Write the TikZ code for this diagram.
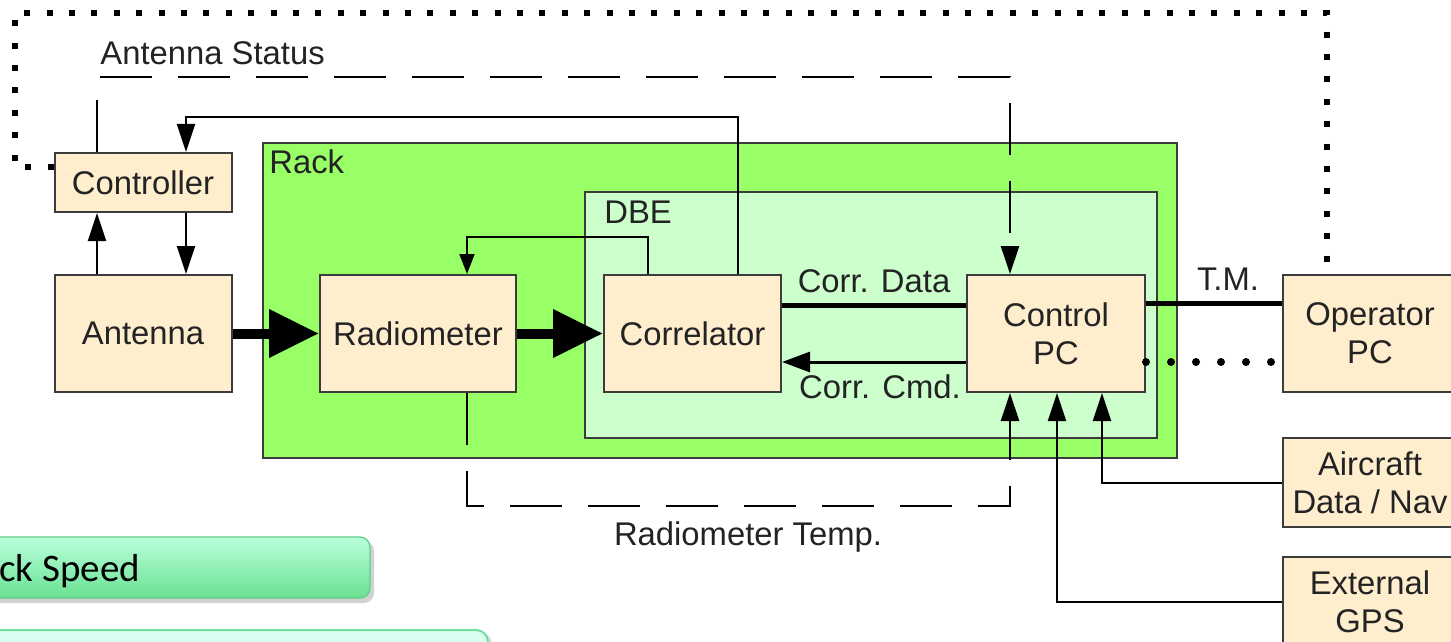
\documentclass[tikz,border=0pt]{standalone}
\usepackage{fontspec}
\setmainfont{Liberation Sans}
\newfontfamily\calibfont{Carlito}
\usetikzlibrary{arrows.meta}
\definecolor{boxfill}{RGB}{255,238,206}
\definecolor{boxline}{RGB}{60,60,60}
\definecolor{rackfill}{RGB}{153,255,102}
\definecolor{dbefill}{RGB}{204,255,204}
\definecolor{txt}{RGB}{35,35,35}
\definecolor{barTop}{RGB}{185,255,220}
\definecolor{barMid}{RGB}{115,235,155}
\definecolor{barBot}{RGB}{105,225,145}
\definecolor{barLine}{RGB}{95,205,135}
\definecolor{bartwofill}{RGB}{218,255,242}
\definecolor{bartwoline}{RGB}{110,225,160}
\begin{document}
\begin{tikzpicture}[x=0.5pt,y=-0.5pt,
  font=\fontsize{16.4}{19}\selectfont,
  box/.style={draw=boxline, line width=1pt, fill=boxfill, text=txt, align=center,
    inner sep=0pt, minimum width=88.5pt, minimum height=58.5pt},
  container/.style={draw=boxline, line width=1pt, inner sep=0pt},
  lbl/.style={text=txt, inner sep=0pt},
  conn/.style={draw=black, line width=1pt},
  arr/.style={conn, -{Triangle[length=14pt,width=9pt]}},
  smallarr/.style={conn, -{Triangle[length=10pt,width=7.5pt]}},
  thickarr/.style={draw=black, line width=5pt, -{Triangle[length=25pt,width=23pt]}},
  datal/.style={draw=black, line width=2.5pt},
  cmdarr/.style={draw=black, line width=1.5pt, -{Triangle[length=14pt,width=10pt]}},
  dashl/.style={draw=black, line width=1.3pt, dash pattern=on 26pt off 13pt},
  sqdots/.style={draw=black, line width=3pt, dash pattern=on 3pt off 8.2pt},
  rnddots/.style={draw=black, line width=4pt, line cap=round, dash pattern=on 0pt off 12.5pt},
]
\path[use as bounding box] (0,0) rectangle (1451,642);
\clip (0,0) rectangle (1451,642);

% bottom-left bars
\fill[black, opacity=0.18] (-30,541) [rounded corners=5pt] rectangle (374,603);
\shade[top color=barTop, middle color=barMid, bottom color=barBot, draw=barLine, line width=0.6pt, rounded corners=5pt]
  (-30,537) rectangle (370,598);
\node[lbl, anchor=base west, font=\calibfont\fontsize{19.5}{22}\selectfont, text=black] (speed) at (-1,581) {ck Speed};
\fill[black, opacity=0.12] (-30,633) [rounded corners=5pt] rectangle (492,700);
\filldraw[fill=bartwofill, draw=bartwoline, line width=1pt, rounded corners=6pt]
  (-30,630) rectangle (488,700);

% containers
\node[container, fill=rackfill, minimum width=457pt, minimum height=157.5pt] (rack) at (720,300.5) {};
\node[lbl, anchor=base west] (racklbl) at (269,173) {Rack};
\node[container, fill=dbefill, minimum width=286pt, minimum height=123pt] (dbe) at (871,315) {};
\node[lbl, anchor=base west] (dbelbl) at (604,223) {DBE};

% boxes
\node[box, minimum height=29.5pt] (ctrl) at (143,182.5) {Controller};
\node[box] (ant) at (143,333.5) {Antenna};
\node[box, minimum width=98pt] (rad) at (418,333.5) {Radiometer};
\node[box] (corr) at (692.5,333.5) {Correlator};
\node[box, minimum width=89pt] (cpc) at (1056,333.5) {Control\\PC};
\node[box, minimum width=87pt] (op) at (1370,333.5) {Operator\\PC};
\node[box, minimum width=87pt, minimum height=44.5pt] (air) at (1370,482.5) {Aircraft\\Data / Nav};
\node[box, minimum width=87pt, minimum height=44.5pt] (gps) at (1370,601.5) {External\\GPS};

% corner coordinates
\coordinate (asL) at (97,77);
\coordinate (asR) at (1010,77);
\coordinate (ccR) at (738,117);
\coordinate (ccL) at (186,117);
\coordinate (fbR) at (648,237);
\coordinate (fbL) at (467,237);
\coordinate (rtL) at (467,506);
\coordinate (rtR) at (1010,506);
\coordinate (airC) at (1102,482.5);
\coordinate (gpsC) at (1057,601.5);
\coordinate (dA) at (15,167);
\coordinate (dB) at (15,13);
\coordinate (dC) at (1327,13);

% dotted operator link
\draw[sqdots] ([yshift=7.75pt]ctrl.west) -- (dA) -- (dB) -- (dC) -- ([xshift=-21.5pt]op.north);

% antenna status
\draw[dashl, -{Triangle[length=14pt,width=9pt]}] ([xshift=-23pt]ctrl.north) -- (asL) -- (asR) -- ([xshift=-23pt]cpc.north);
\node[lbl, anchor=base west] (aslbl) at (100,65) {Antenna Status};

% correlator to controller
\draw[arr] ([xshift=22.75pt]corr.north) -- (ccR) -- (ccL) -- ([xshift=21.5pt]ctrl.north);
% controller <-> antenna
\draw[arr] ([xshift=21.5pt]ctrl.south) -- ([xshift=21.5pt]ant.north);
\draw[arr] ([xshift=-23pt]ant.north) -- ([xshift=-23pt]ctrl.south);
% signal chain
\draw[thickarr] (ant.east) -- (rad.west);
\draw[thickarr] (rad.east) -- (corr.west);
% correlator feedback to radiometer
\draw[smallarr] ([xshift=-22.25pt]corr.north) -- (fbR) -- (fbL) -- ([xshift=24.5pt]rad.north);
% corr data / cmd
\draw[datal] ([yshift=14.25pt]corr.east) -- ([yshift=14.25pt]cpc.west);
\node[lbl, anchor=base] (cdlbl) at (874,292) {Corr. Data};
\draw[cmdarr] ([yshift=-14.25pt]cpc.west) -- ([yshift=-14.25pt]corr.east);
\node[lbl, anchor=base] (cmlbl) at (880,398) {Corr. Cmd.};
% radiometer temp
\draw[dashl, -{Triangle[length=14pt,width=9pt]}] ([xshift=24.5pt]rad.south) -- (rtL) -- (rtR) -- ([xshift=-23pt]cpc.south);
\node[lbl, anchor=base] (rtlbl) at (748,545) {Radiometer Temp.};
% T.M.
\draw[datal] ([yshift=15.25pt]cpc.east) -- ([yshift=15.25pt]op.west);
\node[lbl, anchor=base] (tmlbl) at (1228,290) {T.M.};
\draw[rnddots] ([yshift=-14.25pt]cpc.east) -- ([yshift=-14.25pt]op.west);
% aircraft and gps
\draw[arr] (air.west) -- (airC) -- ([xshift=23pt]cpc.south);
\draw[arr] (gps.west) -- (gpsC) -- ([xshift=0.5pt]cpc.south);
\end{tikzpicture}
\end{document}
